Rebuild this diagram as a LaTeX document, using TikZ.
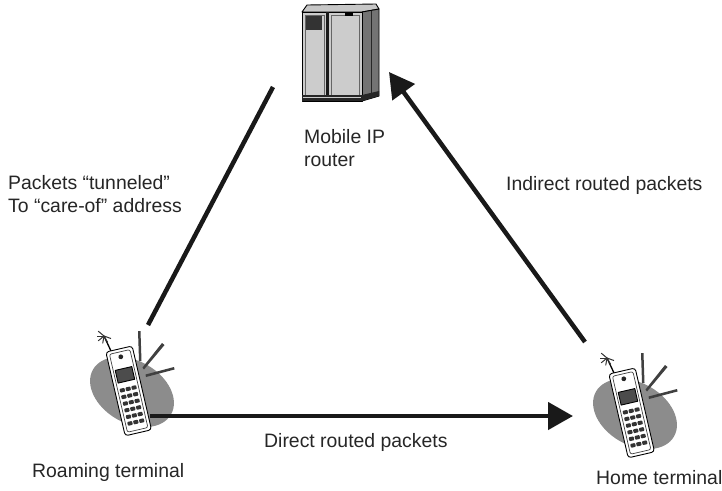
\documentclass[tikz,border=0pt]{standalone}
\usepackage{fontspec}
\setmainfont{Liberation Sans}
\usetikzlibrary{arrows.meta}
\begin{document}
\begin{tikzpicture}[x=1pt,y=-1pt,
  lbl/.style={inner sep=0pt, font=\fontsize{19.4}{23.5}\selectfont, text=black!85, align=left},
  link/.style={line width=4.5pt, draw=black!90},
  tip/.style={-{Triangle[length=25pt,width=27pt]}},
  outline/.style={draw=black, line width=0.9pt, line join=round},
  ray/.style={fill=black!75},
  phone/.pic={
    % grey blob behind the handset
    \fill[black!45] (30,62) ellipse[x radius=45, y radius=31, rotate=-30];
    % signal rays, tapered spikes
    \fill[ray] (36,1) -- (38.5,1) -- (39.5,31) -- (37,31) -- cycle;
    \fill[ray] (60,13) -- (62.5,15) -- (42,39.5) -- (40.5,37.5) -- cycle;
    \fill[ray] (72,37) -- (72.5,39.5) -- (44,47) -- (43.5,44.5) -- cycle;
    % antenna with spark
    \draw[black, line width=1.3pt] (2,6) -- (9,21);
    \foreach \a in {60,100,140,180,220,20}
      \draw[black!80, line width=1pt] (2,6) -- ++(\a:7.5);
    % handset body
    \begin{scope}[shift={(17,19)}, rotate=13]
      \draw[outline, fill=white, rounded corners=3pt] (-13.5,0) rectangle (13.5,86);
      \draw[black!75, line width=0.7pt, rounded corners=2pt] (-10.5,3) rectangle (10.5,83);
      \fill[black!85] (0,8) circle (2.4);
      \draw[outline, fill=black!70] (-8.5,20) rectangle (8.5,33);
      \foreach \r in {0,...,5}
        \foreach \c in {-6,0,6}
          \fill[black!80, rounded corners=0.8pt] (\c-2.5,39+\r*6.8) rectangle (\c+2.5,39+\r*6.8+3.9);
    \end{scope}
  }
]
\useasboundingbox (0,0) rectangle (722,490);
\fill[white] (0,0) rectangle (722,490);

% --- router cabinet ---
\node[inner sep=0pt, minimum width=78pt, minimum height=97pt] (router) at (340,53) {};
\begin{scope}
  % top face
  \draw[outline, fill=black!22] (302,12) -- (307,5) -- (376,4) -- (379,9) -- (362,12) -- cycle;
  % right side face
  \draw[outline, fill=black!55] (362,12) -- (379,9) -- (379,96) -- (362,101) -- cycle;
  \draw[black!85, line width=1pt] (371,11) -- (371,98);
  % front face
  \draw[outline, fill=black!20] (302,12) rectangle (362,101);
  \fill[black!90] (326,12) rectangle (329,101);
  \draw[black!60, line width=0.6pt] (305,15) rectangle (324,95);
  \draw[black!60, line width=0.6pt] (331,15) rectangle (359,95);
  % window and slot
  \fill[black!80] (306,16) rectangle (322,30);
  \fill[black] (345,13) rectangle (353,15.5);
  % plinth
  \fill[black!85] (302,95) rectangle (362,101);
  \draw[black!20, line width=0.6pt] (303,97.5) -- (361,97.5);
  \fill[black!85] (362,95) -- (379,91) -- (379,96) -- (362,101) -- cycle;
\end{scope}

% --- terminals ---
\node[inner sep=0pt, minimum width=90pt, minimum height=105pt] (roam) at (128,380) {};
\node[inner sep=0pt, minimum width=90pt, minimum height=105pt] (home) at (631,402) {};
\pic at (102,330) {phone};
\pic at (605,352) {phone};

% --- connector end points ---
\coordinate (roamUp) at (148,325);
\coordinate (routerL) at (273,87);
\coordinate (homeUp) at (585,342);
\coordinate (routerR) at (389,72);
\coordinate (roamR) at (150,416);
\coordinate (homeL) at (573,416);

\draw[link] (roamUp) -- (routerL);
\draw[link, tip] (homeUp) -- (routerR);
\draw[link, tip] (roamR) -- (homeL);

% --- labels ---
\node[lbl, anchor=north west] (routerLbl) at (304,129) {Mobile IP\\router};
\node[lbl, anchor=north west] (tunLbl) at (8,175) {Packets “tunneled”\\To “care-of” address};
\node[lbl, anchor=base west] (indLbl) at (506,190) {Indirect routed packets};
\node[lbl, anchor=base west] (dirLbl) at (264,447) {Direct routed packets};
\node[lbl, anchor=base west] (roamLbl) at (32,477) {Roaming terminal};
\node[lbl, anchor=base west] (homeLbl) at (596,484) {Home terminal};
\end{tikzpicture}
\end{document}
